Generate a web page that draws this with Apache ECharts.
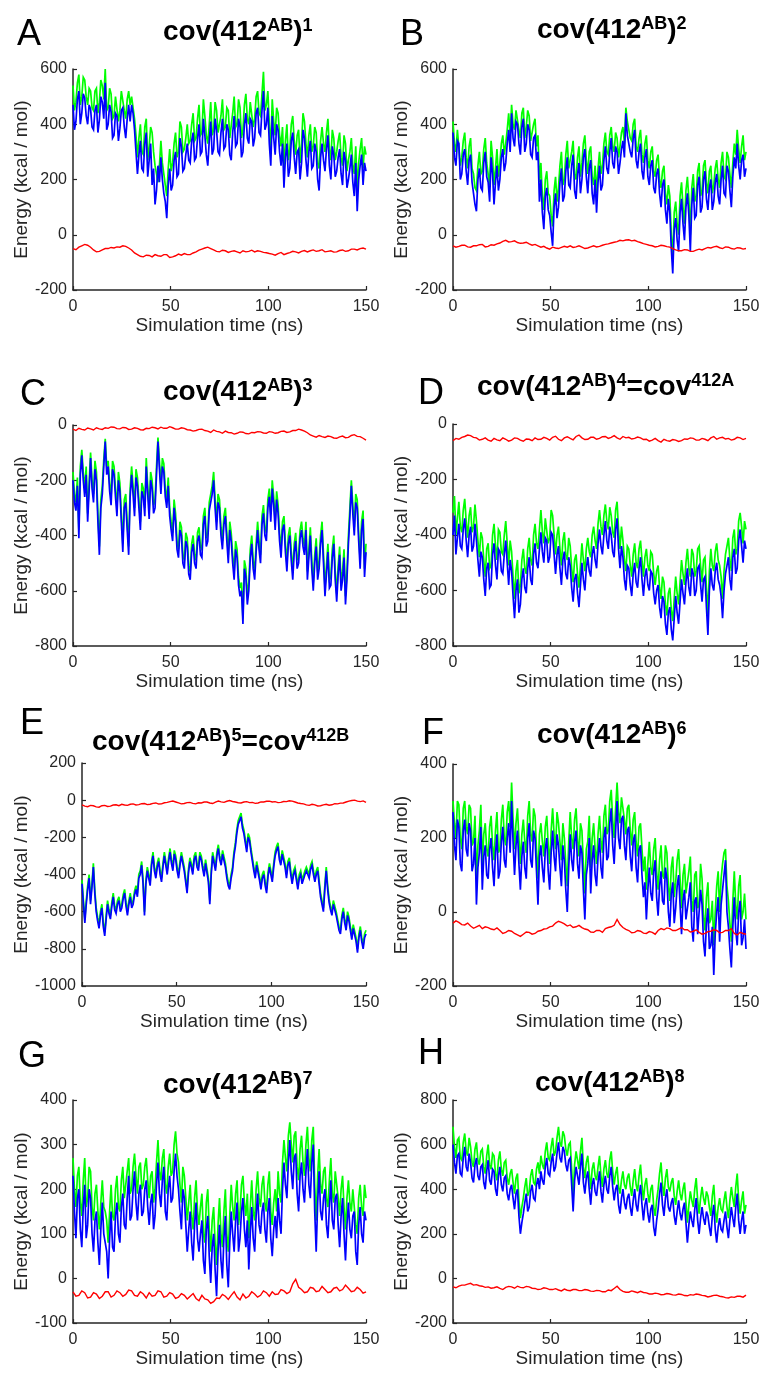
<!DOCTYPE html>
<html><head><meta charset="utf-8">
<script src="https://cdn.jsdelivr.net/npm/echarts@6/dist/echarts.min.js"></script>
<style>html,body{margin:0;padding:0;background:#fff}#c{width:763px;height:1374px}</style>
</head><body><div id="c"></div>
<script>
// ---- data (energies in kcal/mol; samples evenly spaced over 0-150 ns) ----
const SIM_END = 150;
const xTickValues = [0, 50, 100, 150];
const panelLetters = ['A','B','C','D','E','F','G','H'];
const panelTitles = [
  ['cov(412','AB',')','1'],
  ['cov(412','AB',')','2'],
  ['cov(412','AB',')','3'],
  ['cov(412','AB',')','4','=cov','412A'],
  ['cov(412','AB',')','5','=cov','412B'],
  ['cov(412','AB',')','6'],
  ['cov(412','AB',')','7'],
  ['cov(412','AB',')','8']
];
const yRanges = [[-200,600,200],[-200,600,200],[-800,0,200],[-800,0,200],[-1000,200,200],[-200,400,200],[-100,400,100],[-200,800,200]];

const A_green = [540,450,480,550,580,470,500,570,560,500,470,530,520,460,450,520,530,440,480,560,
540,490,600,450,460,530,510,420,430,500,500,410,450,520,520,450,420,490,520,470,
500,500,420,360,280,350,400,300,290,390,420,270,320,390,370,300,250,220,190,250,
340,260,220,180,140,240,310,230,260,330,370,280,300,410,390,300,310,350,400,330,
340,400,440,340,350,420,470,360,370,490,430,360,330,400,480,360,380,480,450,370,
370,430,490,380,390,460,450,350,350,440,500,390,400,490,460,350,380,470,510,420,
400,480,480,390,420,500,520,440,430,510,590,450,470,520,400,310,490,410,360,460,
440,360,320,390,240,340,400,270,310,400,430,340,290,360,380,260,330,440,410,330,
280,360,400,300,320,390,370,260,240,340,390,330,300,370,420,310,270,380,350,270,
300,340,370,280,250,360,330,230,270,300,350,250,220,320,160,260,310,350,240,320,290];
const A_blue = [470,380,410,490,520,400,440,510,495,430,400,470,455,390,380,450,470,370,415,500,
480,420,550,380,400,470,445,350,360,440,430,340,385,450,460,390,350,420,470,410,
470,440,380,300,220,290,340,240,230,330,370,210,270,330,180,240,110,160,250,190,
280,200,150,120,60,180,240,160,180,270,300,210,220,350,320,230,240,290,330,270,
260,340,370,270,280,350,400,290,300,420,360,290,250,340,410,290,310,420,380,300,
290,370,420,310,320,400,380,290,270,370,430,320,330,420,390,280,300,400,440,350,
330,420,410,320,350,440,460,370,360,450,520,380,400,460,330,250,430,350,290,400,
380,300,250,330,170,280,330,210,240,340,370,280,220,300,310,200,260,380,350,270,
210,300,340,240,250,330,300,200,160,280,330,270,230,310,360,250,200,320,290,210,
230,280,310,220,180,300,270,170,200,240,290,190,140,260,85,200,250,290,180,260,230];
const A_red = [-50,-54,-45,-40,-35,-38,-45,-55,-62,-60,-55,-50,-50,-46,-48,-44,-45,-40,-42,-48,
-55,-66,-72,-78,-80,-74,-75,-80,-72,-76,-78,-72,-72,-82,-80,-76,-70,-74,-68,-72,
-72,-66,-62,-56,-52,-48,-45,-50,-55,-60,-62,-56,-58,-64,-60,-58,-62,-66,-58,-62,
-60,-56,-62,-58,-60,-64,-65,-68,-70,-74,-68,-64,-72,-68,-65,-60,-62,-66,-60,-57,
-62,-58,-55,-60,-58,-54,-62,-60,-58,-63,-62,-57,-55,-60,-58,-52,-52,-55,-50,-48,-52];

const B_green = [410,330,300,380,380,250,280,340,370,280,240,320,350,240,220,170,160,250,300,220,
230,310,350,260,260,180,340,280,180,240,310,210,260,330,360,290,330,380,440,360,
470,400,380,450,450,380,350,440,460,350,390,450,430,340,340,400,420,320,360,190,
260,140,90,200,230,150,140,70,30,160,210,120,170,250,300,180,200,290,340,240,
240,300,340,220,200,280,320,210,260,330,360,270,220,300,320,210,180,250,150,240,
300,220,250,330,370,300,290,360,390,320,300,370,350,280,320,370,390,330,460,410,
410,350,340,400,420,320,300,350,380,290,260,330,360,270,240,300,320,230,210,270,
290,200,170,230,250,150,110,180,140,0,-80,80,120,40,0,140,190,100,40,160,
210,130,0,170,220,120,140,230,260,140,160,250,270,190,150,230,250,150,180,240,
270,200,170,260,300,210,200,300,280,220,170,260,330,290,380,310,260,320,360,270,300];
const B_blue = [370,280,250,340,330,200,220,290,310,230,180,270,290,190,150,110,85,200,240,170,
160,260,300,210,190,120,280,220,110,190,250,160,200,280,310,230,260,330,380,300,
440,350,320,410,400,330,290,390,420,300,330,400,380,290,280,350,360,270,300,120,
200,80,20,140,170,90,70,10,-40,100,150,60,100,190,240,120,140,230,280,180,
170,250,290,160,130,220,260,150,200,280,310,210,150,240,270,150,110,200,80,190,
250,160,180,270,320,240,220,300,350,260,240,320,300,220,260,310,340,280,440,360,
360,300,280,350,380,270,240,300,330,230,200,280,310,210,180,250,270,170,150,220,
240,150,100,180,200,90,40,130,80,-50,-140,20,60,-20,-60,80,130,40,-20,100,
150,70,-60,110,170,60,70,180,210,80,100,200,230,130,90,170,200,90,120,190,
220,140,110,200,250,150,140,250,230,160,100,210,280,240,330,250,200,270,290,210,240];
const B_red = [-40,-45,-42,-38,-38,-44,-45,-40,-40,-36,-35,-44,-42,-36,-38,-33,-30,-24,-20,-26,
-25,-22,-28,-31,-30,-27,-33,-38,-35,-40,-45,-42,-48,-52,-45,-48,-50,-46,-42,-45,
-40,-46,-44,-40,-45,-50,-48,-44,-40,-44,-42,-38,-35,-33,-30,-27,-25,-20,-22,-19,
-18,-22,-20,-25,-28,-32,-35,-38,-40,-44,-42,-38,-40,-43,-45,-50,-55,-58,-58,-54,
-55,-60,-60,-56,-52,-55,-50,-46,-48,-44,-42,-47,-50,-44,-45,-50,-52,-47,-48,-52,-50];

const C_green = [-170,-250,-280,-190,-380,-150,-90,-170,-230,-150,-320,-210,-100,-200,-250,-130,-170,-320,-440,-270,
-220,-125,-50,-150,-130,-210,-260,-130,-150,-230,-300,-170,-210,-320,-430,-270,-250,-350,-440,-230,
-150,-220,-300,-160,-190,-270,-350,-210,-230,-300,-120,-220,-310,-170,-200,-290,-270,-150,-45,-130,
-220,-120,-140,-230,-270,-190,-300,-350,-390,-270,-320,-420,-450,-350,-370,-470,-490,-390,-410,-510,
-530,-430,-400,-470,-490,-390,-370,-440,-450,-330,-300,-410,-390,-280,-250,-220,-170,-270,-350,-250,
-270,-370,-420,-330,-300,-390,-470,-350,-390,-470,-530,-420,-450,-550,-590,-570,-700,-490,-520,-620,
-570,-450,-400,-490,-530,-430,-350,-420,-470,-330,-290,-370,-390,-270,-230,-320,-200,-260,-350,-240,
-290,-390,-450,-350,-330,-430,-500,-400,-370,-460,-530,-430,-390,-490,-470,-380,-350,-410,-440,-350,
-530,-450,-370,-490,-570,-470,-410,-530,-490,-400,-350,-470,-590,-510,-430,-560,-550,-450,-400,-530,
-610,-510,-440,-570,-530,-450,-620,-530,-400,-300,-200,-290,-370,-250,-270,-390,-490,-350,-310,-520,-430];
const C_blue = [-200,-280,-310,-220,-410,-180,-110,-200,-260,-180,-350,-240,-120,-230,-280,-160,-200,-350,-470,-300,
-250,-150,-60,-180,-150,-240,-290,-160,-180,-260,-330,-200,-240,-350,-460,-300,-280,-380,-470,-260,
-180,-250,-330,-190,-220,-300,-380,-240,-260,-330,-150,-250,-340,-200,-230,-320,-300,-180,-60,-160,
-250,-150,-170,-260,-300,-220,-330,-380,-420,-300,-350,-450,-480,-380,-400,-500,-520,-420,-440,-540,
-560,-460,-430,-500,-520,-420,-400,-470,-480,-360,-330,-440,-420,-310,-280,-250,-200,-300,-380,-280,
-300,-400,-450,-360,-330,-420,-500,-380,-420,-500,-560,-450,-480,-580,-620,-600,-720,-520,-550,-650,
-600,-480,-430,-520,-560,-460,-380,-450,-500,-360,-320,-400,-420,-300,-260,-350,-230,-290,-380,-270,
-320,-420,-480,-380,-360,-460,-530,-430,-400,-490,-560,-460,-420,-520,-500,-410,-380,-440,-470,-380,
-560,-480,-400,-520,-600,-500,-440,-560,-520,-430,-380,-500,-620,-540,-460,-590,-580,-480,-430,-560,
-640,-540,-470,-600,-560,-480,-650,-560,-430,-330,-220,-320,-400,-280,-300,-420,-520,-380,-340,-550,-460];
const C_red = [-15,-20,-12,-16,-18,-11,-14,-18,-10,-14,-16,-10,-12,-7,-8,-13,-14,-9,-10,-16,
-15,-10,-12,-17,-18,-12,-13,-8,-10,-14,-8,-12,-12,-6,-10,-15,-15,-10,-12,-17,
-18,-22,-20,-16,-15,-20,-22,-27,-18,-23,-25,-30,-22,-27,-28,-33,-30,-25,-26,-31,
-32,-27,-28,-24,-25,-29,-30,-24,-26,-30,-28,-23,-22,-27,-25,-20,-20,-15,-18,-22,
-28,-36,-40,-44,-38,-42,-45,-40,-42,-47,-48,-43,-40,-46,-45,-38,-35,-41,-42,-48,-55];

const D_green = [-320,-260,-400,-340,-280,-370,-390,-310,-270,-350,-410,-330,-300,-390,-370,-290,-350,-420,-480,-390,
-410,-490,-550,-450,-430,-520,-510,-400,-360,-440,-490,-380,-390,-460,-470,-400,-350,-430,-510,-420,
-460,-550,-630,-530,-490,-610,-580,-490,-450,-520,-540,-450,-410,-490,-510,-400,-360,-430,-450,-380,
-310,-390,-430,-340,-340,-430,-410,-310,-330,-400,-470,-400,-370,-450,-510,-420,-390,-470,-490,-410,
-440,-520,-570,-490,-470,-540,-590,-510,-430,-490,-530,-450,-410,-460,-480,-400,-370,-420,-450,-360,
-310,-370,-400,-330,-290,-350,-380,-300,-330,-390,-410,-310,-280,-380,-450,-370,-420,-490,-530,-440,
-450,-510,-550,-470,-430,-500,-520,-450,-420,-490,-550,-480,-450,-510,-530,-460,-470,-540,-580,-530,
-510,-590,-630,-550,-570,-650,-690,-610,-590,-670,-710,-630,-550,-610,-650,-570,-490,-540,-580,-500,
-450,-520,-550,-450,-470,-550,-530,-450,-440,-510,-570,-490,-480,-590,-690,-530,-450,-510,-530,-460,
-430,-490,-510,-550,-630,-530,-470,-440,-410,-490,-530,-410,-380,-470,-450,-350,-320,-370,-430,-350,-380];
const D_blue = [-400,-330,-470,-410,-360,-440,-450,-380,-340,-420,-480,-400,-370,-460,-440,-360,-420,-490,-550,-460,
-480,-560,-620,-520,-500,-590,-580,-470,-430,-510,-560,-450,-460,-530,-540,-470,-420,-500,-580,-490,
-530,-620,-700,-600,-560,-680,-650,-560,-520,-590,-610,-520,-480,-560,-580,-470,-430,-500,-520,-450,
-390,-460,-500,-410,-420,-500,-480,-390,-400,-470,-540,-470,-440,-520,-580,-490,-460,-540,-560,-480,
-510,-590,-640,-560,-540,-610,-660,-580,-500,-560,-600,-520,-480,-530,-550,-470,-440,-490,-520,-430,
-380,-440,-470,-400,-350,-420,-450,-370,-400,-460,-480,-380,-340,-450,-520,-440,-480,-560,-600,-510,
-520,-580,-620,-540,-500,-570,-590,-520,-480,-560,-620,-550,-520,-580,-600,-530,-540,-610,-650,-600,
-580,-660,-700,-620,-640,-720,-760,-680,-660,-740,-780,-700,-620,-680,-720,-640,-560,-610,-650,-570,
-520,-590,-620,-520,-540,-620,-600,-520,-510,-580,-640,-560,-550,-660,-760,-600,-520,-580,-600,-530,
-500,-560,-580,-620,-700,-600,-540,-510,-480,-560,-600,-480,-450,-540,-520,-420,-380,-440,-500,-420,-450];
const D_red = [-60,-52,-55,-48,-45,-40,-42,-48,-50,-58,-55,-50,-58,-62,-52,-57,-60,-50,-55,-62,
-58,-50,-52,-58,-62,-54,-55,-60,-50,-56,-55,-48,-52,-58,-48,-44,-55,-60,-50,-46,
-52,-57,-45,-40,-50,-56,-55,-48,-48,-55,-52,-46,-45,-52,-48,-42,-50,-55,-45,-50,
-48,-54,-52,-47,-50,-56,-55,-62,-58,-52,-60,-65,-55,-60,-62,-56,-58,-63,-60,-54,
-55,-50,-52,-58,-58,-52,-55,-60,-50,-45,-55,-50,-48,-54,-52,-58,-55,-48,-50,-56,-52];

const E_green = [-430,-540,-640,-540,-460,-400,-540,-450,-340,-480,-580,-630,-670,-600,-560,-660,-710,-620,-540,-590,
-620,-550,-500,-570,-590,-540,-520,-580,-560,-510,-480,-550,-600,-540,-500,-560,-540,-490,-460,-500,
-400,-380,-330,-430,-600,-430,-360,-400,-440,-330,-280,-360,-400,-340,-310,-380,-420,-340,-280,-330,
-380,-310,-260,-320,-360,-270,-300,-360,-400,-330,-280,-320,-360,-420,-480,-370,-310,-340,-380,-300,
-280,-340,-360,-280,-300,-350,-390,-320,-330,-420,-540,-380,-280,-320,-360,-280,-240,-300,-330,-270,
-280,-340,-400,-440,-460,-400,-360,-280,-230,-160,-110,-90,-70,-130,-160,-210,-260,-180,-200,-260,
-310,-360,-400,-330,-340,-410,-460,-400,-380,-440,-480,-390,-340,-380,-420,-340,-280,-250,-230,-300,
-330,-270,-280,-340,-400,-330,-310,-380,-430,-380,-360,-410,-460,-400,-380,-430,-440,-380,-360,-380,
-400,-350,-330,-380,-420,-380,-360,-430,-500,-540,-580,-460,-360,-460,-530,-570,-600,-540,-540,-600,
-640,-680,-700,-620,-580,-640,-680,-600,-630,-680,-730,-670,-660,-740,-800,-720,-680,-740,-780,-720,-700];
const E_blue = [-450,-560,-660,-560,-480,-420,-560,-470,-360,-500,-600,-650,-690,-620,-580,-680,-730,-640,-560,-610,
-640,-570,-520,-590,-610,-560,-540,-600,-580,-530,-500,-570,-620,-560,-520,-580,-560,-510,-480,-520,
-420,-400,-350,-450,-620,-450,-380,-420,-460,-350,-300,-380,-420,-360,-330,-400,-440,-360,-300,-350,
-400,-330,-280,-340,-380,-290,-320,-380,-420,-350,-300,-340,-380,-440,-500,-390,-330,-360,-400,-320,
-300,-360,-380,-300,-320,-370,-410,-340,-350,-440,-560,-400,-300,-340,-380,-300,-260,-320,-350,-290,
-300,-360,-420,-460,-480,-420,-380,-300,-250,-180,-130,-110,-90,-150,-180,-230,-280,-200,-220,-280,
-330,-380,-420,-350,-360,-430,-480,-420,-400,-460,-500,-410,-360,-400,-440,-360,-300,-270,-250,-320,
-350,-290,-300,-360,-420,-350,-330,-400,-450,-400,-380,-430,-480,-420,-400,-450,-460,-400,-380,-400,
-420,-370,-350,-400,-440,-400,-380,-450,-520,-560,-600,-480,-380,-480,-550,-590,-620,-560,-560,-620,
-660,-700,-720,-640,-600,-660,-700,-620,-650,-700,-750,-690,-680,-760,-820,-740,-700,-760,-800,-740,-720];
const E_red = [-25,-32,-35,-28,-30,-36,-38,-30,-28,-34,-32,-26,-25,-30,-22,-26,-28,-22,-20,-26,
-24,-19,-18,-24,-22,-17,-15,-21,-20,-14,-12,-8,-5,-10,-15,-20,-18,-13,-12,-17,
-20,-14,-15,-10,-10,-15,-18,-10,-5,-9,-12,-6,-2,-7,-10,-14,-15,-10,-8,-13,
-12,-17,-15,-9,-10,-6,-5,-10,-8,-13,-12,-7,-8,-3,-5,-10,-15,-18,-20,-25,
-28,-22,-25,-31,-30,-25,-22,-27,-25,-19,-20,-16,-15,-10,-5,-2,0,-5,-8,-4,-12];

const F_green = [300,240,200,300,290,200,170,280,300,230,210,290,280,180,190,260,90,180,220,290,
130,210,240,170,150,230,260,180,140,220,270,160,170,250,290,200,180,270,300,230,
350,250,170,240,280,200,130,210,250,190,160,260,300,210,190,280,260,170,90,210,
240,190,150,230,260,180,130,220,280,210,170,270,240,190,140,240,200,130,70,190,
270,200,170,250,280,200,150,240,220,130,50,170,190,260,120,200,240,170,130,210,
260,190,160,260,290,210,220,300,330,250,200,280,350,270,240,310,310,250,210,280,
290,220,180,250,270,190,150,230,240,170,110,150,60,130,190,120,100,170,200,110,
60,140,180,100,90,180,160,70,30,120,150,40,80,140,170,90,10,100,130,50,
50,110,150,30,0,100,110,10,20,130,90,-10,-50,40,80,-30,-20,30,-90,0,
70,110,0,90,130,160,170,70,30,-30,-80,30,110,20,-20,70,100,-20,0,50,-20];
const F_blue = [270,180,140,250,230,130,110,220,250,170,150,240,220,110,130,200,20,120,160,230,
60,150,180,100,90,170,200,120,70,160,210,90,110,190,230,140,120,200,240,160,
300,190,100,180,220,130,60,150,190,120,90,200,240,140,120,220,200,110,20,150,
180,120,80,170,200,110,60,160,220,150,110,210,180,120,70,180,140,60,0,120,
210,140,110,190,220,130,90,180,160,60,-20,100,130,200,50,140,180,100,70,150,
200,120,90,200,230,140,150,240,280,180,130,220,300,200,170,250,260,180,140,220,
230,150,110,190,210,120,80,170,180,100,40,80,-20,60,120,50,30,110,140,40,
-10,70,110,30,20,120,90,0,-40,50,80,-30,10,70,100,20,-60,30,60,-20,
-20,40,80,-40,-80,30,40,-60,-60,60,20,-80,-120,-30,10,-100,-90,-40,-170,-60,
0,40,-80,20,60,100,140,0,-40,-100,-150,-40,40,-50,-90,0,30,-90,-70,-20,-100];
const F_red = [-30,-24,-28,-34,-35,-30,-38,-44,-40,-36,-45,-40,-42,-46,-48,-43,-50,-58,-55,-50,
-52,-58,-62,-66,-60,-54,-55,-60,-58,-52,-50,-46,-45,-40,-38,-30,-25,-28,-32,-38,
-35,-42,-40,-36,-42,-46,-48,-54,-55,-50,-50,-55,-45,-42,-40,-36,-20,-34,-42,-47,
-50,-56,-55,-50,-52,-57,-58,-53,-55,-60,-50,-45,-48,-43,-45,-50,-50,-46,-42,-48,
-48,-54,-52,-48,-55,-60,-58,-53,-52,-48,-50,-56,-55,-50,-50,-45,-58,-62,-55,-58,-60];

const G_green = [270,200,160,230,250,170,140,220,270,160,180,250,240,160,130,190,210,150,110,170,
220,160,150,130,80,150,210,140,130,200,230,160,150,220,250,180,180,240,270,190,
200,250,280,230,190,250,260,200,210,250,270,220,180,230,240,170,200,260,310,240,
220,270,290,210,190,250,280,230,240,300,330,280,260,210,170,250,230,180,130,170,
210,140,110,180,220,150,120,160,190,100,80,170,200,110,60,130,160,80,30,120,
180,100,70,150,200,100,60,140,210,160,130,190,220,120,150,210,230,170,140,190,
90,160,220,150,130,200,240,180,160,210,230,170,150,210,240,150,120,170,200,150,
240,190,170,260,310,270,240,320,350,300,260,320,330,250,220,290,320,260,230,300,
340,270,240,310,340,210,130,230,290,210,190,240,250,180,160,220,270,190,170,240,
240,180,140,200,230,160,110,180,220,170,150,200,200,120,100,180,210,160,140,210,180];
const G_blue = [230,150,90,180,200,110,70,160,210,90,120,200,180,100,60,130,150,80,30,110,
170,100,80,60,0,90,150,70,60,140,170,100,80,160,190,120,110,180,230,130,
140,200,240,170,130,190,210,140,150,200,220,160,120,170,190,110,140,210,260,190,
160,220,250,150,130,200,230,170,180,240,280,230,200,150,110,200,180,120,60,110,
150,80,40,120,170,90,60,100,130,40,10,110,140,50,-10,70,100,20,-40,60,
120,40,0,90,140,30,-20,80,150,100,60,130,170,60,90,150,180,110,70,130,
20,100,160,90,60,140,190,120,100,150,170,110,80,150,180,90,50,110,140,90,
180,130,100,200,260,210,180,260,310,240,200,270,280,190,150,230,260,200,170,240,
290,210,180,260,300,150,60,170,240,150,130,180,200,120,90,160,220,130,110,180,
190,120,70,140,180,100,40,120,170,110,90,140,150,60,30,120,160,100,80,150,130];
const G_red = [-30,-40,-38,-28,-32,-44,-42,-32,-35,-45,-40,-30,-30,-42,-38,-28,-32,-40,-36,-26,
-28,-38,-40,-30,-35,-44,-32,-40,-38,-28,-30,-42,-40,-32,-35,-45,-42,-34,-38,-46,
-40,-34,-45,-50,-38,-46,-48,-56,-52,-44,-45,-36,-40,-47,-38,-30,-42,-48,-35,-44,
-40,-30,-35,-42,-38,-28,-32,-40,-30,-36,-35,-25,-28,-34,-30,-12,-2,-20,-25,-32,
-30,-20,-22,-30,-28,-18,-25,-32,-30,-22,-20,-28,-25,-15,-22,-30,-28,-20,-25,-33,-30];

const H_green = [680,590,540,620,630,540,530,610,650,570,550,630,590,520,500,580,610,530,510,570,
580,500,470,550,600,510,490,560,550,470,440,530,570,490,460,520,530,450,420,470,
490,430,380,450,470,350,270,320,360,410,450,370,390,460,490,430,420,490,520,470,
550,510,490,570,610,540,530,590,630,550,570,630,680,610,590,660,640,580,550,600,
610,490,370,510,570,530,490,570,630,500,450,520,550,470,400,490,520,460,440,500,
550,460,410,490,530,470,450,530,570,480,420,470,500,410,380,440,480,420,400,450,
470,410,370,440,490,420,390,460,510,420,350,420,450,380,340,400,420,320,280,350,
400,470,520,420,370,450,490,410,390,430,450,370,330,390,440,380,350,400,430,340,
250,330,390,350,320,400,450,350,290,360,410,360,330,390,370,320,280,370,420,310,
250,320,360,310,300,350,390,320,270,350,410,360,320,410,470,350,290,350,390,290,330];
const H_blue = [600,520,470,550,560,470,460,540,590,500,480,560,520,450,430,510,540,460,440,500,
510,430,400,480,530,440,420,490,480,400,370,460,500,420,390,450,460,380,350,400,
420,360,310,380,400,280,200,250,290,340,380,300,320,390,420,360,350,420,450,400,
480,440,420,500,540,470,460,520,560,480,500,560,610,540,520,590,570,510,480,530,
540,420,300,440,500,460,420,500,560,430,380,450,480,400,330,420,450,390,370,430,
480,390,340,420,460,400,380,460,500,410,350,400,420,330,290,360,400,340,310,360,
380,320,280,350,400,330,300,370,420,330,260,330,360,290,250,310,330,230,190,260,
310,380,430,330,280,360,400,320,300,340,360,280,240,300,350,290,260,310,340,250,
160,240,300,260,230,310,360,260,200,270,320,270,240,300,280,230,190,280,330,220,
160,230,270,220,210,260,300,230,180,260,320,270,230,320,380,260,200,260,300,200,240];
const H_red = [-38,-42,-35,-30,-30,-26,-22,-30,-28,-33,-35,-40,-38,-44,-42,-38,-45,-50,-40,-36,
-38,-44,-35,-40,-42,-36,-38,-44,-45,-50,-48,-42,-45,-50,-50,-46,-52,-56,-48,-53,
-55,-50,-50,-55,-55,-50,-52,-57,-58,-54,-55,-60,-60,-52,-55,-45,-35,-50,-58,-62,
-62,-56,-60,-64,-58,-63,-65,-70,-70,-66,-68,-73,-72,-68,-70,-74,-75,-70,-72,-77,
-78,-73,-75,-70,-72,-76,-78,-83,-80,-76,-75,-80,-82,-86,-88,-83,-85,-80,-80,-84,-75];

const greens = [A_green,B_green,C_green,D_green,E_green,F_green,G_green,H_green];
const blues  = [A_blue,B_blue,C_blue,D_blue,E_blue,F_blue,G_blue,H_blue];
const reds   = [A_red,B_red,C_red,D_red,E_red,F_red,G_red,H_red];

// ---- layout ----
const grids = [
  {left:73, top:69, width:293, height:221},
  {left:453, top:69, width:293, height:221},
  {left:73, top:425, width:293, height:221},
  {left:453, top:424, width:293, height:222},
  {left:82, top:763, width:284, height:223},
  {left:453, top:764, width:293, height:222},
  {left:73, top:1100, width:293, height:223},
  {left:453, top:1100, width:293, height:223}
];
const letterPos = [[17,15],[400,15],[20,375],[418,374],[20,704],[422,714],[18,1037],[418,1034]];
const titlePos = [[163,16],[537,14],[163,376],[477,371],[92,726],[537,719],[163,1069],[535,1067]];

const FONT = "'Liberation Sans', Arial, Helvetica, sans-serif";
const AX = '#262626';

function pairs(arr){ const step = SIM_END/(arr.length-1); return arr.map((v,i)=>[i*step, v]); }

const chart = echarts.init(document.getElementById('c'), null, {renderer:'canvas'});
const option = {
  animation:false,
  backgroundColor:'#ffffff',
  title:[], grid:[], xAxis:[], yAxis:[], series:[]
};
for (let k=0;k<8;k++){
  option.grid.push(Object.assign({containLabel:false}, grids[k]));
  option.xAxis.push({
    type:'value', gridIndex:k, min:0, max:SIM_END, interval:50,
    name:'Simulation time (ns)', nameLocation:'middle', nameGap:26,
    nameTextStyle:{color:AX, fontSize:19, fontFamily:FONT},
    axisLine:{show:true, onZero:false, lineStyle:{color:AX, width:1.5}},
    axisTick:{show:true, inside:true, length:4, lineStyle:{color:AX, width:1.2}},
    axisLabel:{color:AX, fontSize:16, fontFamily:FONT, margin:9,
      formatter:(v)=> xTickValues.indexOf(v)>=0 ? String(v) : ''},
    splitLine:{show:false}
  });
  const yr = yRanges[k];
  option.yAxis.push({
    type:'value', gridIndex:k, min:yr[0], max:yr[1], interval:yr[2],
    name:'Energy (kcal / mol)', nameLocation:'middle', nameGap: k===4 ? 50 : 41,
    nameTextStyle:{color:AX, fontSize:19, fontFamily:FONT},
    axisLine:{show:true, onZero:false, lineStyle:{color:AX, width:1.5}},
    axisTick:{show:true, inside:true, length:4, lineStyle:{color:AX, width:1.2}},
    axisLabel:{color:AX, fontSize:16, fontFamily:FONT, margin:6, formatter:(v)=>String(v)},
    splitLine:{show:false}
  });
  const mk = (data, color, w)=>({
    type:'line', xAxisIndex:k, yAxisIndex:k, data:data, showSymbol:false, symbol:'none',
    silent:true, lineStyle:{color:color, width:w, join:'miter', miterLimit:4}, itemStyle:{color:color}
  });
  option.series.push(mk(pairs(greens[k]), '#00ff00', 1.7));
  option.series.push(mk(pairs(blues[k]), '#0000ff', 1.7));
  option.series.push(mk(pairs(reds[k]), '#ff0000', 1.4));

  option.title.push({
    text: panelLetters[k], left: letterPos[k][0], top: letterPos[k][1], padding:0,
    textStyle:{fontFamily:FONT, fontSize:36, fontWeight:'normal', color:'#000', lineHeight:40}
  });
  const parts = panelTitles[k];
  let txt = '';
  parts.forEach((p,i)=>{ txt += '{' + (i%2===0 ? 'm' : 's') + '|' + p + '}'; });
  option.title.push({
    text: txt, left: titlePos[k][0], top: titlePos[k][1], padding:0,
    textStyle:{
      fontFamily:FONT, fontSize:28, fontWeight:'bold', color:'#000', lineHeight:32,
      rich:{
        m:{fontFamily:FONT, fontSize:28, fontWeight:'bold', color:'#000', lineHeight:32},
        s:{fontFamily:FONT, fontSize:18, fontWeight:'bold', color:'#000', verticalAlign:'top', height:21, lineHeight:32}
      }
    }
  });
}
chart.setOption(option);
</script></body></html>
